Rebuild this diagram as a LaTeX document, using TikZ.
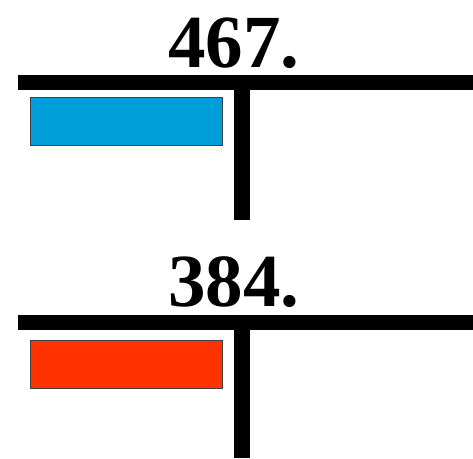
\documentclass[tikz,border=0pt]{standalone}
\usepackage{fontspec}
\setmainfont{Liberation Serif}
\usetikzlibrary{positioning}
\definecolor{barblue}{RGB}{0,158,216}
\definecolor{barred}{RGB}{255,51,0}
\tikzset{
  numlabel/.style={font=\fontsize{75}{75}\selectfont\bfseries, inner sep=0pt, anchor=base},
  bar/.style={draw=black!75, line width=0.8pt, minimum width=192pt, minimum height=48pt, inner sep=0pt, anchor=north west},
  tline/.style={line width=15pt},
  vline/.style={line width=16pt}
}

\begin{document}
\begin{tikzpicture}[x=1pt,y=-1pt]
  \useasboundingbox (0,0) rectangle (473,458);
  % upper number
  \node[numlabel] (numA) at (234,67) {467.};
  \coordinate (hA1) at (18,82);
  \coordinate (hA2) at (473,82);
  \coordinate (vA1) at (242,82);
  \coordinate (vA2) at (242,220);
  \draw[tline] (hA1) -- (hA2);
  \draw[vline] (vA1) -- (vA2);
  \node[bar, fill=barblue] (barA) at (30,97) {};
  % lower number
  \node[numlabel] (numB) at (234,306) {384.};
  \coordinate (hB1) at (18,322);
  \coordinate (hB2) at (473,322);
  \coordinate (vB1) at (242,322);
  \coordinate (vB2) at (242,458);
  \draw[tline] (hB1) -- (hB2);
  \draw[vline] (vB1) -- (vB2);
  \node[bar, fill=barred] (barB) at (30,340) {};
\end{tikzpicture}
\end{document}
